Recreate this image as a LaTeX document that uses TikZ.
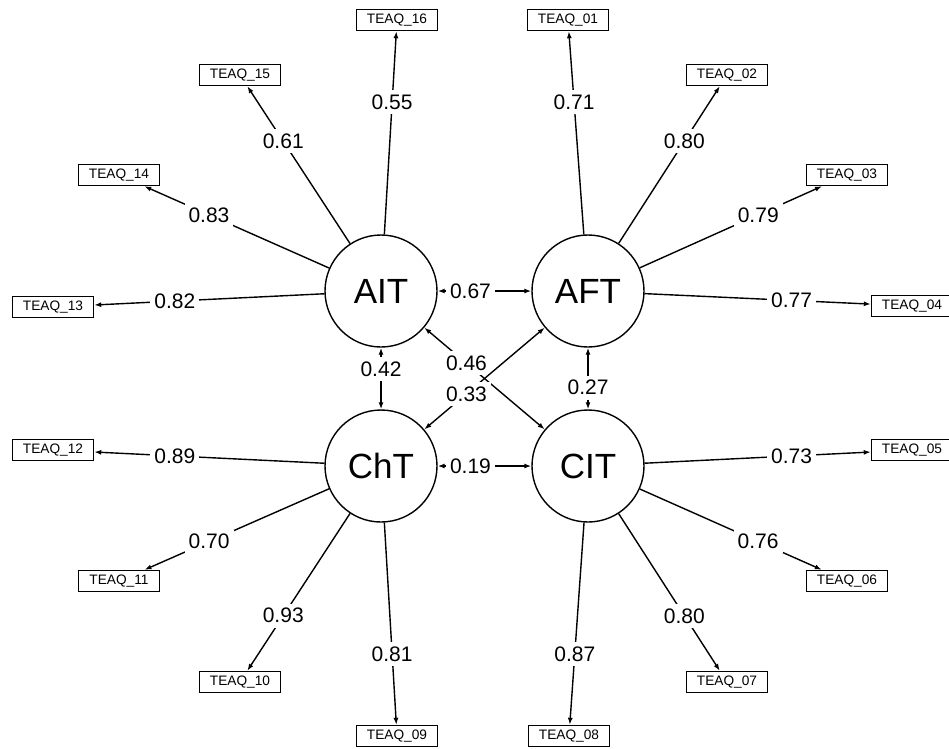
\documentclass[tikz,border=0pt]{standalone}
\usepackage{fontspec}
\setmainfont{Liberation Sans}
\usetikzlibrary{arrows.meta}
\tikzset{
  lat/.style={draw, circle, line width=1.4pt, minimum size=112pt, inner sep=0pt, font=\fontsize{35}{40}\selectfont},
  obs/.style={draw, rectangle, line width=1.4pt, minimum width=81pt, minimum height=21pt, inner sep=0pt, font=\fontsize{13.7}{16}\selectfont},
  load/.style={line width=1.4pt, -{Latex[length=7pt,width=5pt]}},
  cov/.style={line width=1.4pt, {Latex[length=7pt,width=5pt]}-{Latex[length=7pt,width=5pt]}},
  lbl/.style={fill=white, inner xsep=4pt, inner ysep=4.5pt, font=\fontsize{21}{24}\selectfont},
}
\begin{document}
\begin{tikzpicture}[x=1pt,y=-1pt]
\useasboundingbox (0,0) rectangle (949,748);
\fill[white] (0,0) rectangle (949,748);
% latent variables
\node[lat] (AIT) at (381,291) {AIT};
\node[lat] (AFT) at (588,291) {AFT};
\node[lat] (ChT) at (381,466) {ChT};
\node[lat] (CIT) at (588,466) {CIT};
% observed variables
\node[obs] (q16) at (397,20) {TEAQ\_16};
\node[obs] (q01) at (568,20) {TEAQ\_01};
\node[obs] (q15) at (240,75) {TEAQ\_15};
\node[obs] (q02) at (727,75) {TEAQ\_02};
\node[obs] (q14) at (119,175) {TEAQ\_14};
\node[obs] (q03) at (847,175) {TEAQ\_03};
\node[obs] (q13) at (53,307) {TEAQ\_13};
\node[obs] (q04) at (912,306) {TEAQ\_04};
\node[obs] (q12) at (53,450) {TEAQ\_12};
\node[obs] (q05) at (912,450) {TEAQ\_05};
\node[obs] (q11) at (119,581) {TEAQ\_11};
\node[obs] (q06) at (847,581) {TEAQ\_06};
\node[obs] (q10) at (240,682) {TEAQ\_10};
\node[obs] (q07) at (727,682) {TEAQ\_07};
\node[obs] (q09) at (397,736) {TEAQ\_09};
\node[obs] (q08) at (569,736) {TEAQ\_08};
% loadings
\draw[load] (AFT) -- node[lbl,pos=0.65] {0.71} (q01);
\draw[load] (AFT) -- node[lbl,pos=0.65] {0.80} (q02);
\draw[load] (AFT) -- node[lbl,pos=0.65] {0.79} (q03);
\draw[load] (AFT) -- node[lbl,pos=0.65] {0.77} (q04);
\draw[load] (CIT) -- node[lbl,pos=0.65] {0.73} (q05);
\draw[load] (CIT) -- node[lbl,pos=0.65] {0.76} (q06);
\draw[load] (CIT) -- node[lbl,pos=0.65] {0.80} (q07);
\draw[load] (CIT) -- node[lbl,pos=0.65] {0.87} (q08);
\draw[load] (ChT) -- node[lbl,pos=0.65] {0.81} (q09);
\draw[load] (ChT) -- node[lbl,pos=0.65] {0.93} (q10);
\draw[load] (ChT) -- node[lbl,pos=0.65] {0.70} (q11);
\draw[load] (ChT) -- node[lbl,pos=0.65] {0.89} (q12);
\draw[load] (AIT) -- node[lbl,pos=0.65] {0.82} (q13);
\draw[load] (AIT) -- node[lbl,pos=0.65] {0.83} (q14);
\draw[load] (AIT) -- node[lbl,pos=0.65] {0.61} (q15);
\draw[load] (AIT) -- node[lbl,pos=0.65] {0.55} (q16);
% covariances
\draw[cov] (AIT) -- node[lbl,pos=0.35] {0.67} (AFT);
\draw[cov] (ChT) -- node[lbl,pos=0.35] {0.19} (CIT);
\draw[cov] (AIT) -- node[lbl,pos=0.35] {0.42} (ChT);
\draw[cov] (CIT) -- node[lbl,pos=0.35] {0.27} (AFT);
\draw[cov] (AIT) -- node[lbl,pos=0.35] {0.46} (CIT);
\draw[cov] (ChT) -- node[lbl,pos=0.35] {0.33} (AFT);
\end{tikzpicture}
\end{document}
